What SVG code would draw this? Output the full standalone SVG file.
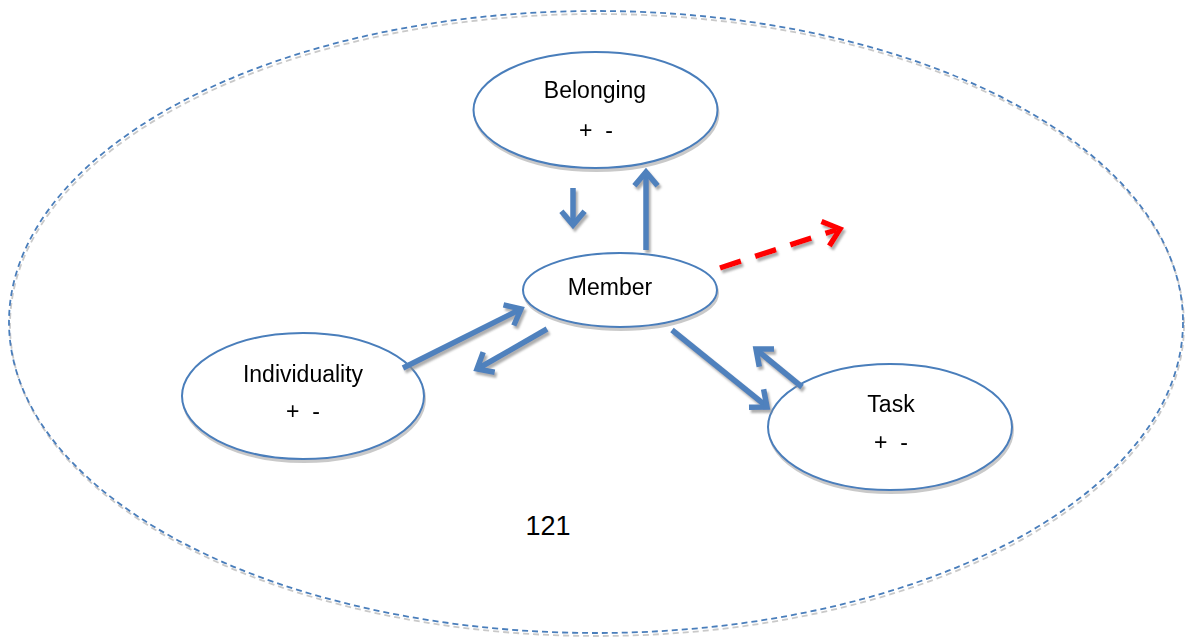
<svg xmlns="http://www.w3.org/2000/svg" width="1191" height="639" viewBox="0 0 1191 639">
  <defs>
    <filter id="shadow" x="-10%" y="-10%" width="120%" height="130%">
      <feDropShadow dx="1" dy="3" stdDeviation="0.5" flood-color="#a6a6a6" flood-opacity="0.6"/>
    </filter>
    <filter id="arrowShadow" x="-20%" y="-20%" width="140%" height="140%">
      <feDropShadow dx="2" dy="3" stdDeviation="0.8" flood-color="#8c8c8c" flood-opacity="0.7"/>
    </filter>
  </defs>
  <style>
    .node { fill: #ffffff; stroke: #4a7ebb; stroke-width: 2; }
    .frame { fill: none; stroke: #4a7ebb; stroke-width: 1.8; stroke-dasharray: 6 4; }
    .label { font-family: "Liberation Sans", Arial, sans-serif; font-size: 23px; fill: #000000; text-anchor: middle; }
    .sign { font-family: "Liberation Sans", Arial, sans-serif; font-size: 23px; fill: #000000; text-anchor: middle; white-space: pre; }
    .link { fill: none; stroke: #4f81bd; stroke-width: 5.5; stroke-linejoin: miter; }
    .out { fill: none; stroke: #ff0000; stroke-width: 5.5; }
  </style>

  <rect width="1191" height="639" fill="#ffffff"/>

  <!-- surrounding group boundary -->
  <g id="boundary" filter="url(#shadow)">
    <ellipse class="frame" cx="596" cy="322" rx="587" ry="311"/>
  </g>

  <g id="belonging" filter="url(#shadow)">
    <ellipse class="node" cx="595.5" cy="110" rx="122" ry="58"/>
    <text class="label" x="595" y="98">Belonging</text>
    <text class="sign" x="596" y="138">+  -</text>
  </g>

  <g id="member" filter="url(#shadow)">
    <ellipse class="node" cx="620" cy="290" rx="97" ry="37"/>
    <text class="label" x="610" y="295">Member</text>
  </g>

  <g id="individuality" filter="url(#shadow)">
    <ellipse class="node" cx="303" cy="396" rx="121" ry="63"/>
    <text class="label" x="303" y="382">Individuality</text>
    <text class="sign" x="303" y="419">+  -</text>
  </g>

  <g id="task" filter="url(#shadow)">
    <ellipse class="node" cx="890" cy="427" rx="122" ry="63"/>
    <text class="label" x="891" y="412">Task</text>
    <text class="sign" x="891" y="450">+  -</text>
  </g>

  <g id="page-number">
    <text class="label" x="548" y="535" style="font-size:27px">121</text>
  </g>

  <g id="connectors" filter="url(#arrowShadow)">
    <!-- Belonging -> Member -->
    <path class="link" d="M573 188 L573 225"/>
    <path class="link" d="M561.4 211.2 L573 225 L584.6 211.2"/>
    <!-- Member -> Belonging -->
    <path class="link" d="M646 250 L646 173"/>
    <path class="link" d="M634.4 185.8 L646 172 L657.6 185.8"/>
    <!-- Individuality -> Member -->
    <path class="link" d="M403 368 L519 310"/>
    <path class="link" d="M503.5 304.8 L521 309 L513.8 325.5"/>
    <!-- Member -> Individuality -->
    <path class="link" d="M547 329 L479 368"/>
    <path class="link" d="M483.2 352.1 L477 369 L494.7 372.2"/>
    <!-- Member -> Task -->
    <path class="link" d="M672 330 L765 405"/>
    <path class="link" d="M763.6 389.3 L767 407 L749 407.3"/>
    <!-- Task -> Member -->
    <path class="link" d="M802 387 L758 351"/>
    <path class="link" d="M759.3 366.7 L756 349 L774 348.9"/>
    <!-- outward link -->
    <path class="out" d="M720 268 L836 230" stroke-dasharray="22 15"/>
    <path class="out" d="M821.5 221.5 L840 229 L829.4 246"/>
  </g>
</svg>
